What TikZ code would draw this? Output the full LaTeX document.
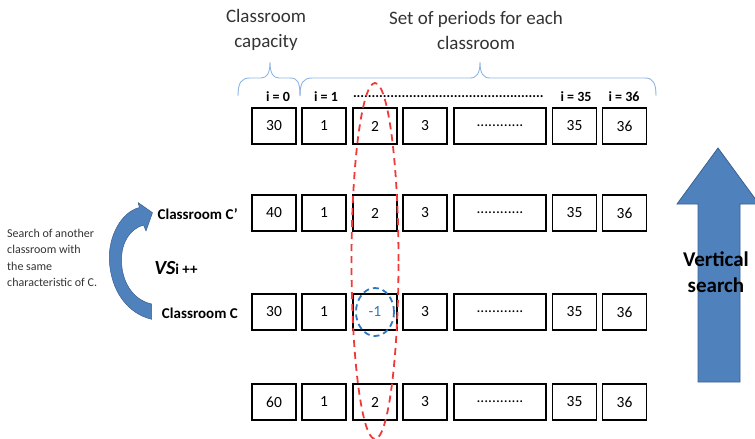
\documentclass[tikz,border=0pt]{standalone}
\usepackage{fontspec}
\setmainfont{Carlito}
\definecolor{arrowblue}{HTML}{4F81BD}
\definecolor{arrowedge}{HTML}{3A6090}
\definecolor{bracecol}{HTML}{8EB4E3}
\definecolor{dashred}{HTML}{F03A3A}
\definecolor{dashblue}{HTML}{2E78C2}
\definecolor{txtgray}{HTML}{333333}
\begin{document}
\begin{tikzpicture}[x=1pt,y=-1pt,
  cell/.style={draw=black, line width=1.6pt, fill=white, minimum height=36pt,
    minimum width=44pt, inner sep=0pt, font=\fontsize{15.5}{18}\selectfont},
  widecell/.style={cell, minimum width=92pt},
  idx/.style={font=\fontsize{14}{16}\selectfont\bfseries, inner sep=0pt},
  heading/.style={align=center, text=txtgray, inner sep=0pt,
    font=\fontsize{19}{25}\selectfont},
  rowlabel/.style={anchor=east, inner sep=0pt, font=\fontsize{15}{18}\selectfont\bfseries},
  bracket/.style={draw=bracecol, line width=0.9pt},
  redring/.style={draw=dashred, line width=1.8pt, dash pattern=on 7pt off 5pt},
  bluering/.style={draw=dashblue, line width=1.8pt, dash pattern=on 6pt off 4pt},
  bigarrow/.style={fill=arrowblue, draw=arrowedge, line width=0.8pt, line join=miter}
]
\useasboundingbox (0,0) rectangle (755,439);

% headings and braces
\node[heading] (hcap) at (266,30) {Classroom\\capacity};
\node[heading] (hper) at (476,30) {Set of periods for each\\classroom};
\draw[bracket] (238,96) .. controls (238,83) and (241,78) .. (250,78) -- (261,78)
  .. controls (267,78) and (270,73) .. (270,62) .. controls (270,73) and (273,78) .. (279,78)
  -- (290,78) .. controls (298,78) and (300,83) .. (300,96);
\draw[bracket] (300,96) .. controls (300,83) and (303,78) .. (312,78) -- (470,78)
  .. controls (477,78) and (480,73) .. (480,62) .. controls (480,73) and (483,78) .. (490,78)
  -- (645,78) .. controls (653,78) and (656,83) .. (656,96);

% index labels
\node[idx] (i0) at (278,97) {i = 0};
\node[idx] (i1) at (326,97) {i = 1};
\node[idx, text width=192pt] (idots) at (449,97) {\leaders\hbox{.}\hfill\null};
\node[idx] (i35) at (576,97) {i = 35};
\node[idx] (i36) at (624,97) {i = 36};

% classroom rows
\foreach \r/\y/\cap/\two in {1/126/30/2, 2/213/40/2, 3/312/30/{\textcolor{dashblue}{-1}}, 4/402/60/2}{
  \node[cell] (c\r-0) at (274,\y) {\cap};
  \node[cell] (c\r-1) at (324,\y) {1};
  \node[cell] (c\r-2) at (375,\y) {\two};
  \node[cell] (c\r-3) at (425,\y) {3};
  \node[widecell] (c\r-d) at (500,\y) {............};
  \node[cell] (c\r-35) at (574.5,\y) {35};
  \node[cell] (c\r-36) at (624.5,\y) {36};
}

% column being scanned and the conflicting period
\coordinate (colc) at (375,261);
\draw[redring] (colc) ellipse [x radius=23.5pt, y radius=178pt];
\draw[bluering] (c3-2.center) ellipse [x radius=19pt, y radius=24pt];

% left side: switching to another classroom
\node[rowlabel] (lcp) at (238,214) {Classroom C’};
\node[rowlabel] (lc) at (238,313) {Classroom C};
\node[inner sep=0pt] (vs) at (176,268)
  {{\fontsize{20}{20}\selectfont\bfseries\itshape VS}{\fontsize{15}{16}\selectfont\bfseries i ++}};
\node[anchor=west, align=left, inner sep=0pt, text=txtgray,
  font=\fontsize{12}{16.5}\selectfont] (note) at (7,258)
  {Search of another\\classroom with\\the same\\characteristic of C.};
\fill[arrowblue, draw=arrowedge, line width=0.5pt, line join=round]
  (139.5,207.5) .. controls (121,212) and (108.3,236.7) .. (109.3,260)
  .. controls (110.7,290) and (126.7,313.3) .. (151.7,319.3)
  -- (151.7,304)
  .. controls (133,300) and (121.5,282) .. (121.5,260)
  .. controls (121.5,242) and (130,229) .. (143.5,225)
  -- (146,231) -- (152.5,212.7) -- (138,202.5) -- cycle;

% right side: vertical search arrow
\draw[bigarrow] (698,382) -- (698,204) -- (677,204) -- (718,148) -- (759,204)
  -- (740,204) -- (740,382) -- cycle;
\node[align=center, inner sep=0pt, font=\fontsize{21}{26}\selectfont\bfseries]
  (vsearch) at (716,272) {Vertical\\search};
\end{tikzpicture}
\end{document}
